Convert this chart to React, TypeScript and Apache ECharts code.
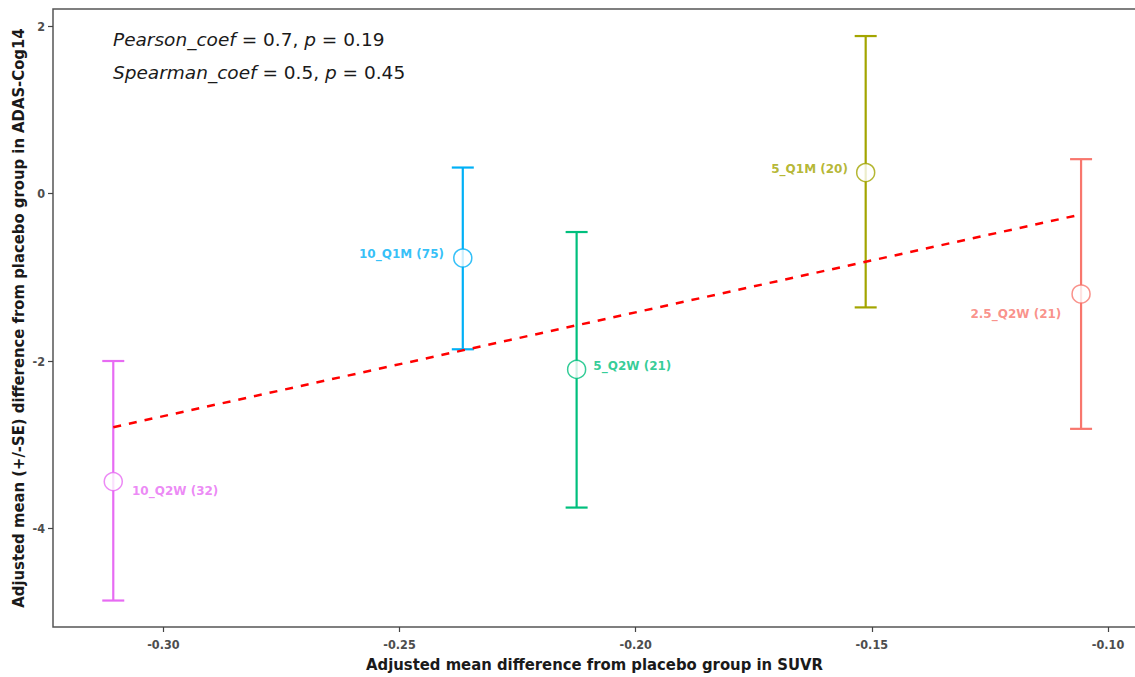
import React, { useEffect, useRef } from "react";
import * as echarts from "echarts";

const groups = ["10_Q2W (32)", "10_Q1M (75)", "5_Q2W (21)", "5_Q1M (20)", "2.5_Q2W (21)"];
const xValues = [-0.3106, -0.2366, -0.2125, -0.1513, -0.1057];
const yMeans = [-3.44, -0.77, -2.10, 0.25, -1.20];
const yLow = [-4.86, -1.86, -3.75, -1.36, -2.81];
const yHigh = [-2.0, 0.31, -0.46, 1.88, 0.41];
const colors = ["#E76BF3", "#00B0F6", "#00BF7D", "#A3A500", "#F8766D"];
const fitLine = [
  [-0.3106, -2.79],
  [-0.1057, -0.25],
];
const xTicks = [-0.3, -0.25, -0.2, -0.15, -0.1];
const yTicks = [-4, -2, 0, 2];

const labelPlacement: any[] = [
  { position: "right", distance: 9, offset: [0, 9] },
  { position: "left", distance: 9, offset: [0, -4] },
  { position: "right", distance: 7, offset: [0, -3] },
  { position: "left", distance: 8, offset: [0, -4] },
  { position: "left", distance: 10, offset: [0, 20] },
];

const tickFont = "'Liberation Sans Narrow', 'DejaVu Sans Condensed', 'Liberation Sans', Arial, sans-serif";
const noteFont = "'DejaVu Sans', 'Liberation Sans', Arial, sans-serif";

export default function App() {
  const ref = useRef<HTMLDivElement>(null);
  useEffect(() => {
    if (!ref.current) return;
    const chart = echarts.init(ref.current, undefined, { renderer: "svg" });
    const errData = xValues.map((x, i) => [x, yLow[i], yHigh[i], i]);
    const pointData = xValues.map((x, i) => ({
      value: [x, yMeans[i]],
      name: groups[i],
      itemStyle: { color: "#ffffff", borderColor: colors[i], borderWidth: 1.5 },
      label: {
        show: true,
        formatter: groups[i],
        color: colors[i],
        fontWeight: "bold",
        fontSize: 12,
        fontFamily: noteFont,
        ...labelPlacement[i],
      },
    }));
    chart.setOption({
      animation: false,
      backgroundColor: "#ffffff",
      grid: {
        left: 53,
        top: 9,
        right: -1,
        bottom: 50,
        outerBoundsMode: "none",
        containLabel: false,
        show: true,
        borderColor: "#555555",
        borderWidth: 1.5,
        backgroundColor: "transparent",
      },
      xAxis: {
        type: "value",
        min: -0.32336,
        max: -0.09407,
        splitLine: { show: false },
        axisLine: { show: false, onZero: false },
        axisTick: { show: true, customValues: xTicks, length: 5, lineStyle: { color: "#444", width: 1.2 } },
        axisLabel: {
          customValues: xTicks,
          formatter: (v: number) => v.toFixed(2),
          color: "#4d4d4d",
          fontSize: 12.5,
          fontWeight: "bold",
          fontFamily: tickFont,
          margin: 11,
        },
        name: "Adjusted mean difference from placebo group in SUVR",
        nameLocation: "middle",
        nameGap: 27,
        nameTextStyle: { color: "#1a1a1a", fontSize: 16.5, fontWeight: "bold", fontFamily: tickFont },
      },
      yAxis: {
        type: "value",
        min: -5.176,
        max: 2.203,
        splitLine: { show: false },
        axisLine: { show: false, onZero: false },
        axisTick: { show: true, customValues: yTicks, length: 5, lineStyle: { color: "#444", width: 1.2 } },
        axisLabel: {
          customValues: yTicks,
          color: "#4d4d4d",
          fontSize: 12.5,
          fontWeight: "bold",
          fontFamily: tickFont,
          margin: 8,
        },
        name: "Adjusted mean (+/-SE) difference from placebo group in ADAS-Cog14",
        nameLocation: "middle",
        nameGap: 26,
        nameMoveOverlap: false,
        nameTextStyle: { color: "#1a1a1a", fontSize: 16.5, fontWeight: "bold", fontFamily: tickFont },
      },
      graphic: [
        {
          type: "text",
          left: 113,
          top: 30,
          style: {
            text: "{i|Pearson_coef} = 0.7, {i|p} = 0.19",
            rich: {
              i: { fontStyle: "italic", fontSize: 18.5, fill: "#1a1a1a", fontFamily: noteFont },
            },
            fontSize: 18.5,
            fill: "#1a1a1a",
            fontFamily: noteFont,
          },
        },
        {
          type: "text",
          left: 113,
          top: 63,
          style: {
            text: "{i|Spearman_coef} = 0.5, {i|p} = 0.45",
            rich: {
              i: { fontStyle: "italic", fontSize: 18.5, fill: "#1a1a1a", fontFamily: noteFont },
            },
            fontSize: 18.5,
            fill: "#1a1a1a",
            fontFamily: noteFont,
          },
        },
      ],
      series: [
        {
          type: "custom",
          data: errData,
          z: 2,
          renderItem: (params: any, api: any) => {
            const x = api.value(0);
            const lo = api.coord([x, api.value(1)]);
            const hi = api.coord([x, api.value(2)]);
            const c = colors[api.value(3)];
            const hw = 11;
            const style = { stroke: c, lineWidth: 2.2 };
            return {
              type: "group",
              children: [
                { type: "line", shape: { x1: lo[0], y1: lo[1], x2: hi[0], y2: hi[1] }, style },
                { type: "line", shape: { x1: lo[0] - hw, y1: lo[1], x2: lo[0] + hw, y2: lo[1] }, style },
                { type: "line", shape: { x1: hi[0] - hw, y1: hi[1], x2: hi[0] + hw, y2: hi[1] }, style },
              ],
            };
          },
        },
        {
          type: "line",
          data: fitLine,
          z: 3,
          symbol: "none",
          lineStyle: { color: "#FF0000", width: 2.5, type: [8, 8] },
        },
        {
          type: "scatter",
          data: pointData,
          z: 4,
          symbol: "circle",
          symbolSize: 18,
        },
      ],
    });
    return () => chart.dispose();
  }, []);
  return (
    <div
      ref={ref}
      style={{ position: "fixed", left: 0, top: 0, width: 1135, height: 677, overflow: "hidden" }}
    />
  );
}
